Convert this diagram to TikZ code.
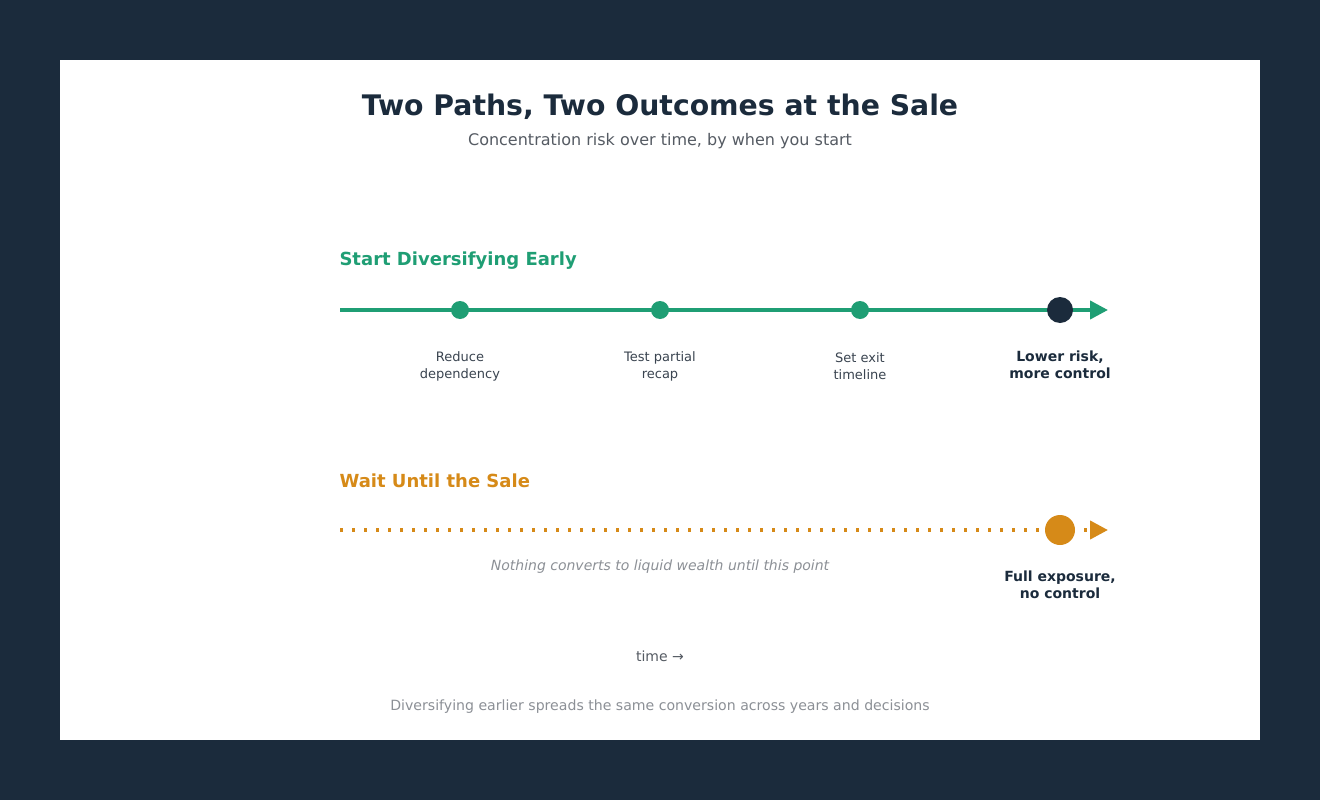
\documentclass[tikz,border=0pt]{standalone}
\usepackage{fontspec}
\setmainfont{DejaVu Sans}
\usepackage{xcolor}
\usetikzlibrary{arrows.meta,positioning}
\definecolor{navy}{HTML}{1B2B3C}
\definecolor{early}{HTML}{1F9E74}
\definecolor{late}{HTML}{D68A18}
\definecolor{sub}{HTML}{555B63}
\definecolor{lbl}{HTML}{3A4450}
\definecolor{note}{HTML}{8C9096}
\tikzset{
  path/.style={line width=4pt},
  wait/.style={line width=4pt, dash pattern=on 3pt off 9pt},
  tip/.style={-{Triangle[length=18pt, width=18pt]}},
  mile/.style={circle, fill=early, inner sep=0pt, minimum size=18pt},
  goal/.style={circle, inner sep=0pt},
  lab/.style={text=lbl, font=\fontsize{13}{17}\selectfont, align=center},
  labb/.style={text=navy, font=\bfseries\fontsize{14}{17}\selectfont, align=center},
  head/.style={font=\bfseries\fontsize{18}{22}\selectfont, anchor=west},
}
\begin{document}
\begin{tikzpicture}[x=1pt, y=-1pt]
\fill[navy] (0,0) rectangle (1320,800);
\fill[white] (60,60) rectangle (1260,740);

\node[text=navy, font=\bfseries\fontsize{28.3}{34}\selectfont] (title) at (660,107) {Two Paths, Two Outcomes at the Sale};
\node[text=sub, font=\fontsize{16}{19}\selectfont] (subtitle) at (660,141) {Concentration risk over time, by when you start};

% early path
\node[head, text=early] (earlyhead) at (336,261) {Start Diversifying Early};
\coordinate (es) at (340,310);
\coordinate (ee) at (1108,310);
\draw[path, early, tip] (es) -- (ee);
\foreach \x/\n/\t in {460/m1/{Reduce\\dependency},660/m2/{Test partial\\recap},860/m3/{Set exit\\timeline}}{
  \node[mile] (\n) at (\x,310) {};
  \node[lab] (\n lab) at (\x,366) {\t};
}
\node[goal, fill=navy, minimum size=26pt] (egoal) at (1060,310) {};
\node[labb] (egoallab) at (1060,365) {Lower risk,\\more control};

% late path
\node[head, text=late] (latehead) at (336,481) {Wait Until the Sale};
\coordinate (ls) at (340,530);
\coordinate (le) at (1108,530);
\draw[wait, late, tip] (ls) -- (le);
\node[goal, fill=late, minimum size=30pt] (lgoal) at (1060,530) {};
\node[labb] (lgoallab) at (1060,585) {Full exposure,\\no control};
\node[text=note, font=\itshape\fontsize{14}{17}\selectfont] (lnote) at (660,567) {Nothing converts to liquid wealth until this point};

\node[text=sub, font=\fontsize{14}{17}\selectfont] (time) at (660,656) {time →};
\node[text=note, font=\fontsize{14.1}{17}\selectfont] (footer) at (660,707) {Diversifying earlier spreads the same conversion across years and decisions};
\end{tikzpicture}
\end{document}
